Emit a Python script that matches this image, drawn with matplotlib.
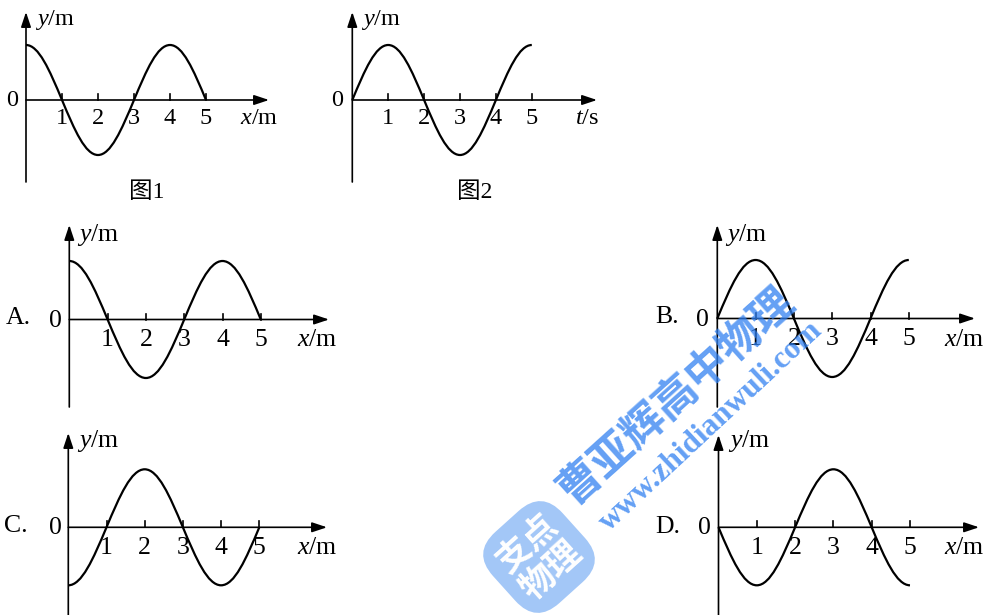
import numpy as np
import matplotlib
matplotlib.use("Agg")
import matplotlib.pyplot as plt
from matplotlib.path import Path
from matplotlib.patches import PathPatch

plt.rcParams['font.family'] = ['Liberation Serif', 'Noto Sans CJK SC']
plt.rcParams['mathtext.fontset'] = 'custom'
plt.rcParams['mathtext.rm'] = 'Liberation Serif'
plt.rcParams['mathtext.it'] = 'Liberation Serif:italic'

# node values of each wave at x (or t) = 0..5
x_nodes = [0, 1, 2, 3, 4, 5]
fig1_y = [1, 0, -1, 0, 1, 0]
fig2_y = [0, 1, 0, -1, 0, 1]
opt_a_y = [1, 0, -1, 0, 1, 0]
opt_b_y = [0, 1, 0, -1, 0, 1]
opt_c_y = [-1, 0, 1, 0, -1, 0]
opt_d_y = [0, -1, 0, 1, 0, -1]
tick_vals = [1, 2, 3, 4, 5]
tick_labels = ['1', '2', '3', '4', '5']
captions = ['图1', '图2']
letters = ['A.', 'B.', 'C.', 'D.']

W, H = 989, 615
fig = plt.figure(figsize=(W / 100, H / 100), dpi=100)

# bezier handles for a quarter sine wave
HX, HY = 0.3516, 0.5523


def wave_path(xs, ys):
    verts = [(xs[0], ys[0])]
    codes = [Path.MOVETO]
    for i in range(len(xs) - 1):
        x0, y0, x1, y1 = xs[i], ys[i], xs[i + 1], ys[i + 1]
        dx, dy = x1 - x0, y1 - y0
        if y0 == 0:
            c1 = (x0 + HX * dx, y0 + HY * dy)
            c2 = (x1 - HX * dx, y1)
        else:
            c1 = (x0 + HX * dx, y0)
            c2 = (x1 - HX * dx, y1 - HY * dy)
        verts += [c1, c2, (x1, y1)]
        codes += [Path.CURVE4] * 3
    return Path(verts, codes)


def panel(p, ys, xlab, fs):
    ox, oy, ux, uy = p['o'][0], p['o'][1], p['ux'], p['uy']
    ax = fig.add_axes([(ox - 2 * ux) / W, (H - oy - 2.5 * uy) / H,
                       10 * ux / W, 5 * uy / H])
    ax.set_xlim(-2, 8)
    ax.set_ylim(-2.5, 2.5)
    ax.axis('off')

    def d(px, py):
        return (px - ox) / ux, (oy - py) / uy

    arrow = dict(arrowstyle='-|>,head_length=0.9,head_width=0.3', lw=1.2,
                 color='black', mutation_scale=10, shrinkA=0, shrinkB=0)
    ax.annotate('', xy=d(ox, p['ytop']), xytext=d(ox, p['ybot']),
                arrowprops=arrow, annotation_clip=False)
    ax.annotate('', xy=d(p['xtip'], oy), xytext=(0, 0),
                arrowprops=arrow, annotation_clip=False)
    for v, lab in zip(tick_vals, tick_labels):
        ax.plot([v, v], [0, 6 / uy], color='black', lw=1.2, clip_on=False)
        ax.text(v, -p['lab_dy'] / uy, lab, fontsize=fs,
                ha='center', va='center')
    ax.add_patch(PathPatch(wave_path(x_nodes, ys), fill=False, lw=1.6,
                           edgecolor='black', clip_on=False))
    ax.text(*d(*p['zero']), '0', fontsize=fs, ha='center', va='center')
    ax.text(*d(*p['ylab']), r'$y$/m', fontsize=fs, ha='left', va='center')
    ax.text(*d(*p['xlab']), xlab, fontsize=fs, ha='center', va='center')
    return ax, d


panels = [
    dict(o=(26, 100), ux=36.0, uy=55, ytop=12, ybot=182, xtip=269,
         lab_dy=19, zero=(12, 101), ylab=(35, 20), xlab=(259, 119)),
    dict(o=(352.3, 100), ux=35.9, uy=55, ytop=12, ybot=182, xtip=597,
         lab_dy=19, zero=(337, 101), ylab=(361, 20), xlab=(587, 119)),
    dict(o=(69.3, 319.5), ux=38.3, uy=58.5, ytop=225, ybot=407, xtip=329,
         lab_dy=20.5, zero=(55.5, 321), ylab=(77, 235), xlab=(317, 340)),
    dict(o=(717.3, 318.5), ux=38.3, uy=58.5, ytop=225, ybot=407, xtip=975,
         lab_dy=20.5, zero=(702, 320), ylab=(725, 235), xlab=(964, 340)),
    dict(o=(68.3, 527.3), ux=38.2, uy=58, ytop=433, ybot=615, xtip=327,
         lab_dy=20.5, zero=(55, 528), ylab=(77, 441), xlab=(317, 548)),
    dict(o=(718.5, 527.3), ux=38.3, uy=58, ytop=435, ybot=615, xtip=979,
         lab_dy=20.5, zero=(704, 528), ylab=(728, 441), xlab=(964, 548)),
]
waves = [fig1_y, fig2_y, opt_a_y, opt_b_y, opt_c_y, opt_d_y]
xlabels = [r'$x$/m', r'$t$/s', r'$x$/m', r'$x$/m', r'$x$/m', r'$x$/m']

cap_pos = [(147, 192), (475, 192)]
letter_pos = [(18, 318), (667, 317), (16, 526), (668, 527)]

for i, (p, ys, xl) in enumerate(zip(panels, waves, xlabels)):
    fs = 17.5 if i < 2 else 18.5
    panel(p, ys, xl, fs)

for cap, (px, py) in zip(captions, cap_pos):
    fig.text(px / W, 1 - py / H, cap, fontsize=17, ha='center', va='center')
for let, (px, py) in zip(letters, letter_pos):
    fig.text(px / W, 1 - py / H, let, fontsize=18.5, ha='center', va='center')

# watermark
wm = (0.19, 0.5, 0.945)
fig.text(676 / W, 1 - 396 / H, '曹亚辉高中物理', fontsize=31, rotation=42,
         family=['Noto Sans CJK SC'], weight='black', color=wm, alpha=0.75,
         ha='center', va='center', rotation_mode='anchor', zorder=10)
fig.text(711 / W, 1 - 426 / H, 'www.zhidianwuli.com', fontsize=22.5,
         rotation=43, weight='bold', color=wm, alpha=0.75, ha='center',
         va='center', rotation_mode='anchor', zorder=10)
fig.text(539 / W, 1 - 557 / H, '支点\n物理', fontsize=25, rotation=42,
         family=['Noto Sans CJK SC'], weight='black', color='white',
         ha='center', va='center', rotation_mode='anchor', linespacing=1.05,
         zorder=11,
         bbox=dict(boxstyle='round,pad=0.35,rounding_size=0.9',
                   facecolor=(0.62, 0.77, 0.97), edgecolor='none', alpha=0.95))

fig.savefig('out.png', dpi=100)
